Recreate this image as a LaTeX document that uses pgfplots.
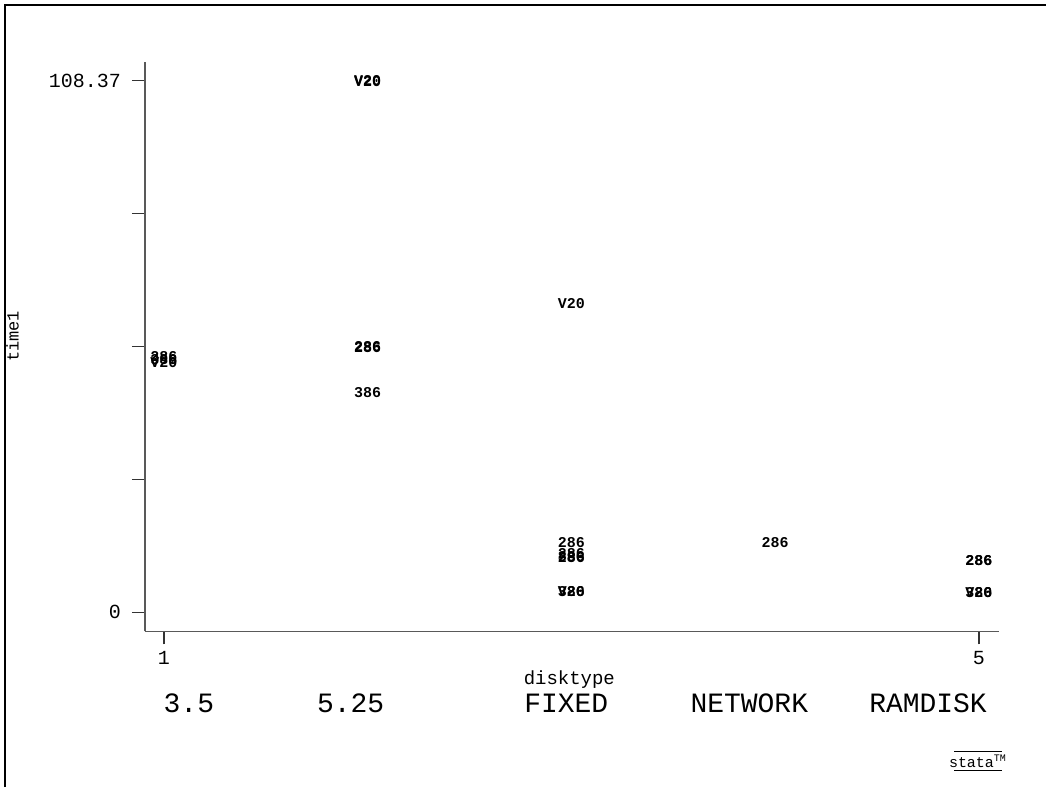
\documentclass[border=0pt]{standalone}
\usepackage{pgfplots}
\pgfplotsset{compat=1.18}
\usepackage{fontspec}
\setmainfont{Liberation Sans}
\newfontfamily\statafont{Liberation Mono}
\newcommand\datafont{\statafont\bfseries\fontsize{7.5}{8}\selectfont}
\newcommand\tickfont{\statafont\fontsize{10}{12}\selectfont}
\newcommand\catfont{\statafont\fontsize{14}{16}\selectfont}

% time1 by disktype, one table per machine
\pgfplotstableread{
x y
1 52.2
2 54.2
2 54.0
3 14.3
3 12.0
3 11.2
4 14.3
5 10.6
5 10.5
}\tabA
\pgfplotstableread{
x y
1 51.5
2 44.8
3 11.4
3 4.3
5 4.1
}\tabB
\pgfplotstableread{
x y
1 51.0
2 108.37
2 108.1
3 62.9
3 4.2
5 4.0
}\tabC

\begin{document}
\begin{tikzpicture}
\path (0,0) rectangle (523.5pt,394pt);
% page frame (top and left edges)
\draw[line width=1.1pt] (2.6pt,0) -- (2.6pt,391.4pt) -- (523.5pt,391.4pt);
\begin{axis}[
  at={(72.5pt,78pt)}, anchor=south west,
  scale only axis, width=427.5pt, height=285pt,
  xmin=0.907, xmax=5.098, ymin=-3.87, ymax=112.2,
  axis x line=bottom, axis y line=left,
  axis line style={-, black!65, line width=0.7pt},
  every tick/.style={black!80, line width=0.7pt},
  tick align=outside, major tick length=6.5pt,
  xtick={1,5}, xticklabels={1,5},
  ytick={0,27.0925,54.185,81.2775,108.37},
  yticklabels={0,,,,108.37},
  tick label style={font=\tickfont},
  yticklabel style={xshift=-2pt},
  extra x ticks={1.123,1.917,2.975,3.873,4.750},
  extra x tick labels={3.5,5.25,FIXED,NETWORK,RAMDISK},
  extra x tick style={major tick length=0pt,
    xticklabel style={font=\catfont, yshift=-27pt, text height=10pt, text depth=0pt}},
  xlabel={disktype}, ylabel={time1},
  xlabel style={font=\statafont\fontsize{9.5}{11}\selectfont,
    at={(axis description cs:0.497,0)}, anchor=center, yshift=-24pt},
  ylabel style={font=\statafont\fontsize{8.5}{10}\selectfont, inner sep=0pt,
    at={(axis description cs:-0.155,0.518)}, anchor=center},
  clip=false,
  every node near coord/.append style={anchor=center, font=\datafont, inner sep=0pt},
]
\addplot[draw=none, mark=none, nodes near coords={286}] table[x=x,y=y] {\tabA};
\addplot[draw=none, mark=none, nodes near coords={386}] table[x=x,y=y] {\tabB};
\addplot[draw=none, mark=none, nodes near coords={V20}] table[x=x,y=y] {\tabC};
\end{axis}
% Stata logo
\draw[line width=0.5pt] (477.5pt,18pt) -- (501.5pt,18pt);
\draw[line width=0.5pt] (477.5pt,8.5pt) -- (501.5pt,8.5pt);
\node[font=\statafont\fontsize{7.5}{8}\selectfont, inner sep=0pt] at (489.5pt,13.2pt) {stata\textsuperscript{\tiny TM}};
\end{tikzpicture}
\end{document}
